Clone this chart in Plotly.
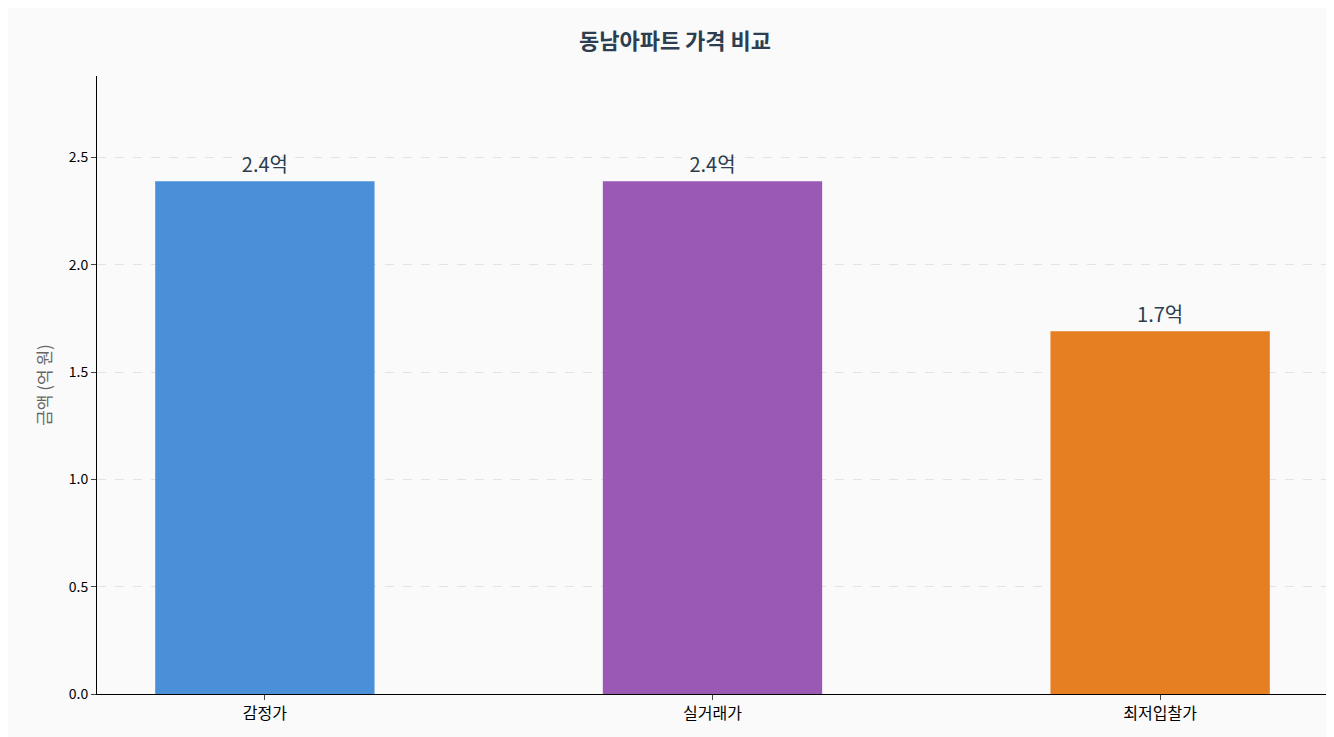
import plotly.graph_objects as go

categories = ["감정가", "실거래가", "최저입찰가"]
values = [2.39, 2.39, 1.69]
labels = ["2.4억", "2.4억", "1.7억"]
colors = ["#4a90d9", "#9b59b6", "#e67e22"]

fig = go.Figure(go.Bar(
    x=list(range(len(categories))), y=values, width=0.49,
    marker=dict(color=colors, line=dict(width=0)),
    text=labels, textposition="outside", cliponaxis=False,
    textfont=dict(size=20, color="#2c3e50", family="Noto Sans CJK KR"),
))
fig.update_layout(
    width=1334, height=737,
    paper_bgcolor="#fafafa", plot_bgcolor="#fafafa",
    margin=dict(l=89, r=14, t=68, b=51),
    font=dict(family="Noto Sans CJK KR", size=14, color="#000"),
    title=dict(text="<b>동남아파트 가격 비교</b>", x=0.5, y=0.965, xanchor="center",
               font=dict(size=22, color="#2c3e50")),
    showlegend=False,
    xaxis=dict(tickvals=list(range(len(categories))), ticktext=categories,
               range=[-0.375, 2.375], showline=True, linecolor="#000",
               ticks="outside", ticklen=5, tickfont=dict(size=16), showgrid=False),
    yaxis=dict(range=[0, 2.88], tickvals=[0, 0.5, 1, 1.5, 2, 2.5],
               ticktext=["0.0", "0.5", "1.0", "1.5", "2.0", "2.5"],
               showline=True, linecolor="#000", ticks="outside", ticklen=5,
               gridcolor="#e3e3e3", griddash="dash", zeroline=False,
               title=dict(text="금액 (억 원)", font=dict(size=17, color="#666"), standoff=12)),
)
fig.write_html("out.html")
